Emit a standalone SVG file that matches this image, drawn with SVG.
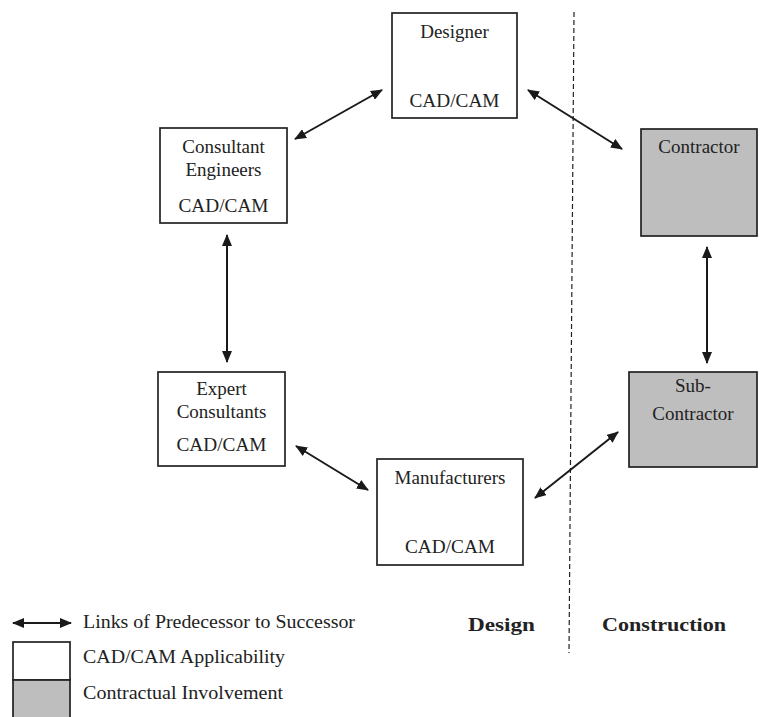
<svg xmlns="http://www.w3.org/2000/svg" width="760" height="717" viewBox="0 0 760 717">
  <style>
    .box { fill: #ffffff; stroke: #222222; stroke-width: 1.7; }
    .box.shaded { fill: #bebebe; }
    .lbl { font-family: "Liberation Serif", "DejaVu Serif", serif; font-size: 19px; fill: #222222; text-anchor: middle; }
    .legend { font-family: "Liberation Serif", "DejaVu Serif", serif; font-size: 19px; fill: #222222; }
    .phase { font-family: "Liberation Serif", "DejaVu Serif", serif; font-size: 19px; font-weight: bold; fill: #222222; }
    .link { stroke: #1a1a1a; stroke-width: 2; fill: none; marker-start: url(#head); marker-end: url(#head); }
    .divider { stroke: #222222; stroke-width: 1.2; stroke-dasharray: 5 3; fill: none; }
  </style>
  <defs>
    <marker id="head" viewBox="0 0 12 10" refX="11" refY="5" markerWidth="12" markerHeight="10" markerUnits="userSpaceOnUse" orient="auto-start-reverse">
      <path d="M0,0 L12,5 L0,10 Z" fill="#1a1a1a"/>
    </marker>
  </defs>

  <rect width="760" height="717" fill="#ffffff"/>

  <!-- design / construction boundary -->
  <line class="divider" x1="574" y1="12" x2="569" y2="653"/>

  <g id="designer">
    <rect class="box" x="392" y="13" width="125" height="105"/>
    <text class="lbl" x="454.5" y="38">Designer</text>
    <text class="lbl" x="454.5" y="107" textLength="90" lengthAdjust="spacingAndGlyphs">CAD/CAM</text>
  </g>

  <g id="consultant-engineers">
    <rect class="box" x="160" y="128" width="127" height="95"/>
    <text class="lbl" x="223.5" y="153">Consultant</text>
    <text class="lbl" x="223.5" y="176">Engineers</text>
    <text class="lbl" x="223.5" y="212" textLength="90" lengthAdjust="spacingAndGlyphs">CAD/CAM</text>
  </g>

  <g id="contractor">
    <rect class="box shaded" x="641" y="129" width="116" height="107"/>
    <text class="lbl" x="699" y="153">Contractor</text>
  </g>

  <g id="expert-consultants">
    <rect class="box" x="158" y="372" width="127" height="94"/>
    <text class="lbl" x="221.5" y="395">Expert</text>
    <text class="lbl" x="221.5" y="418">Consultants</text>
    <text class="lbl" x="221.5" y="451" textLength="90" lengthAdjust="spacingAndGlyphs">CAD/CAM</text>
  </g>

  <g id="manufacturers">
    <rect class="box" x="377" y="459" width="146" height="106"/>
    <text class="lbl" x="450" y="484">Manufacturers</text>
    <text class="lbl" x="450" y="553" textLength="90" lengthAdjust="spacingAndGlyphs">CAD/CAM</text>
  </g>

  <g id="sub-contractor">
    <rect class="box shaded" x="629" y="372" width="128" height="95"/>
    <text class="lbl" x="693" y="392">Sub-</text>
    <text class="lbl" x="693" y="420">Contractor</text>
  </g>

  <g id="connectors">
    <line class="link" x1="295" y1="139" x2="382" y2="90"/>
    <line class="link" x1="528" y1="90" x2="622" y2="149"/>
    <line class="link" x1="227" y1="235" x2="227" y2="362"/>
    <line class="link" x1="707" y1="247" x2="707" y2="363"/>
    <line class="link" x1="296" y1="446" x2="368" y2="490"/>
    <line class="link" x1="535" y1="498" x2="618" y2="432"/>
  </g>

  <g id="phase-labels">
    <text class="phase" x="468" y="631" textLength="67" lengthAdjust="spacingAndGlyphs">Design</text>
    <text class="phase" x="602" y="631" textLength="124" lengthAdjust="spacingAndGlyphs">Construction</text>
  </g>

  <g id="legend">
    <line class="link" x1="13" y1="623" x2="71" y2="623"/>
    <text class="legend" x="83" y="628" textLength="272" lengthAdjust="spacingAndGlyphs">Links of Predecessor to Successor</text>
    <rect class="box" x="13" y="642" width="57" height="38"/>
    <text class="legend" x="83" y="663" textLength="202" lengthAdjust="spacingAndGlyphs">CAD/CAM Applicability</text>
    <rect class="box shaded" x="13" y="680" width="57" height="40"/>
    <text class="legend" x="83" y="699" textLength="200" lengthAdjust="spacingAndGlyphs">Contractual Involvement</text>
  </g>
</svg>
